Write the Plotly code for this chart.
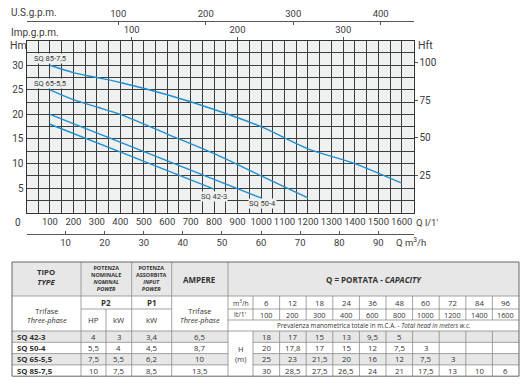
import plotly.graph_objects as go

W, H = 532, 390


def px(x):
    return x / W


def py(y):
    return 1 - y / H


# ---------------- data ----------------
# table values
q_lmin = [100, 200, 300, 400, 600, 800, 1000, 1200, 1400, 1600]
q_m3h = [6, 12, 18, 24, 36, 48, 60, 72, 84, 96]
h_sq42_3 = [18, 17, 15, 13, 9.5, 5]
h_sq50_4 = [20, 17.8, 17, 15, 12, 7.5, 3]
h_sq65_55 = [25, 23, 21.5, 20, 16, 12, 7.5, 3]
h_sq85_75 = [30, 28.5, 27.5, 26.5, 24, 21, 17.5, 13, 10, 6]
pump_types = ["SQ 42-3", "SQ 50-4", "SQ 65-5,5", "SQ 85-7,5"]
p2_hp = [4, 5.5, 7.5, 10]
p2_kw = [3, 4, 5.5, 7.5]
p1_kw = [3.4, 4.5, 6.2, 8.5]
ampere = [6.5, 8.7, 10, 13.5]

# curves as drawn on the chart
curve_q_sq42_3 = [100, 450, 800]
curve_h_sq42_3 = [18, 11.4, 4.8]
curve_q_sq50_4 = [100, 450, 1000]
curve_h_sq50_4 = [20, 13.4, 3]
curve_q_sq65_55 = q_lmin[:len(h_sq65_55)]
curve_h_sq65_55 = h_sq65_55
curve_q_sq85_75 = q_lmin
curve_h_sq85_75 = h_sq85_75
curve_names = ["SQ 42-3", "SQ 50-4", "SQ 65-5,5", "SQ 85-7,5"]

x_ticks_lmin = [100, 200, 300, 400, 500, 600, 700, 800, 900, 1000,
                1100, 1200, 1300, 1400, 1500, 1600]
y_ticks_m = [5, 10, 15, 20, 25, 30]
y_ticks_ft = [25, 50, 75, 100]
us_gpm_ticks = [100, 200, 300, 400]
imp_gpm_ticks = [100, 200, 300]
m3h_ticks = [10, 20, 30, 40, 50, 60, 70, 80, 90]


def fmt(v):
    if float(v).is_integer():
        return str(int(v))
    return str(v).replace(".", ",")


FONT = "Roboto"
TXT = "#3a3a3a"
BLUE = "#1f8fd2"
GRID = "#3c3c3c"
PLOTBG = "#eff1f0"

# plot area in pixels
PL, PR, PT, PB = 26.5, 413.5, 40.7, 212.7
XMAX = 1650.0
YMAX = 35.0

fig = go.Figure()

curves = [(curve_q_sq42_3, curve_h_sq42_3), (curve_q_sq50_4, curve_h_sq50_4),
          (curve_q_sq65_55, curve_h_sq65_55), (curve_q_sq85_75, curve_h_sq85_75)]
for name, (cq, ch) in zip(curve_names, curves):
    fig.add_trace(go.Scatter(
        x=cq, y=ch, mode="lines", name=name,
        line=dict(color=BLUE, width=1.4, shape="spline", smoothing=0.8),
        hoverinfo="x+y+name", showlegend=False))

# dummy traces so secondary axes are drawn
for xa, ya in (("x2", "y"), ("x3", "y"), ("x4", "y"), ("x", "y2")):
    fig.add_trace(go.Scatter(x=[None], y=[None], xaxis=xa, yaxis=ya,
                             showlegend=False, hoverinfo="skip"))

xdom = [px(PL), px(PR)]
tickfont = dict(family=FONT, size=9.5, color=TXT)

# US gpm: observed 100 at 118.3px, 400 at 380.7px
us_scale = (380.7 - 118.3) / 300.0
us_range = [100 - (118.3 - PL) / us_scale, 100 + (PR - 118.3) / us_scale]
# Imp gpm: 100 at 131.7px, 300 at 343.3px
imp_scale = (343.3 - 131.7) / 200.0
imp_range = [100 - (131.7 - PL) / imp_scale, 100 + (PR - 131.7) / imp_scale]

fig.update_layout(
    width=W, height=H,
    margin=dict(l=0, r=0, t=0, b=0, autoexpand=False),
    paper_bgcolor="white",
    plot_bgcolor=PLOTBG,
    showlegend=False,
    xaxis=dict(domain=xdom, range=[0, XMAX], anchor="y",
               tickvals=x_ticks_lmin, ticks="", tickfont=tickfont,
               showgrid=True, gridcolor=GRID, gridwidth=0.8,
               minor=dict(dtick=50, tick0=0, showgrid=True,
                          gridcolor=GRID, gridwidth=0.8, ticks=""),
               showline=True, linecolor="#333", linewidth=1, mirror=True,
               zeroline=False, fixedrange=True),
    yaxis=dict(domain=[py(PB), py(PT)], range=[0, YMAX], anchor="x",
               tickvals=y_ticks_m, ticks="", tickfont=dict(family=FONT, size=10, color=TXT),
               showgrid=True, gridcolor=GRID, gridwidth=0.8,
               minor=dict(dtick=2.5, tick0=0, showgrid=True,
                          gridcolor=GRID, gridwidth=0.8, ticks=""),
               showline=True, linecolor="#333", linewidth=1, mirror=True,
               zeroline=False, fixedrange=True),
    yaxis2=dict(overlaying="y", side="right", anchor="x",
                range=[0, YMAX * 3.28084], tickvals=y_ticks_ft,
                ticks="outside", ticklen=3, tickcolor="#555",
                tickfont=dict(family=FONT, size=10, color=TXT),
                showgrid=False, zeroline=False, showline=False, fixedrange=True),
    xaxis2=dict(overlaying="x", side="top", anchor="y",
                range=imp_range, tickvals=imp_gpm_ticks,
                ticks="outside", ticklen=3, tickcolor="#555",
                tickfont=tickfont, showgrid=False, zeroline=False,
                showline=False, fixedrange=True),
    xaxis3=dict(overlaying="x", side="top", anchor="free", position=py(21),
                range=us_range, tickvals=us_gpm_ticks,
                ticks="inside", ticklen=3, tickcolor="#555",
                tickfont=tickfont, showgrid=False, zeroline=False,
                showline=True, linecolor="#555", linewidth=1, fixedrange=True),
    xaxis4=dict(overlaying="x", side="bottom", anchor="free", position=py(234),
                range=[0, XMAX * 0.06], tickvals=m3h_ticks,
                ticks="inside", ticklen=3, tickcolor="#555",
                tickfont=tickfont, showgrid=False, zeroline=False,
                showline=True, linecolor="#555", linewidth=1, fixedrange=True),
)

ann = []


def text(x, y, s, size=9.5, anchor="center", color=TXT, family=FONT, bg=None):
    d = dict(x=px(x), y=py(y), xref="paper", yref="paper", text=s,
             showarrow=False, xanchor=anchor, yanchor="middle",
             borderpad=0,
             font=dict(family=family, size=size, color=color))
    if bg:
        d["bgcolor"] = bg
    ann.append(d)


# axis titles
text(10, 12, "U.S.g.p.m.", 10, "left")
text(10, 32, "Imp.g.p.m.", 10, "left")
text(9, 45, "Hm", 10.5, "left")
text(417, 45, "Hft", 10.5, "left")
text(18, 222, "0", 10)
text(415, 222, "Q l/1'", 9.5, "left")
text(395, 242, "Q m<sup>3</sup>/h", 9.5, "left")

# curve labels
text(50, 58.5, "SQ 85-7,5", 7.5, bg=PLOTBG)
text(50, 83.5, "SQ 65-5,5", 7.5, bg=PLOTBG)
text(214, 196, "SQ 42-3", 7.5, bg=PLOTBG)
text(262, 203.5, "SQ 50-4", 7.5, bg=PLOTBG)

# ---------------- table ----------------
shapes = []
LINE = "#8c8c8c"
X0, C1, C1A, C2, C3, C4, C5, XR = 12, 81, 106, 131.7, 171.7, 228, 253, 519
ncol = len(q_m3h)
cw = (XR - C5) / ncol
qcols = [C5 + i * cw for i in range(ncol + 1)]
R0, R1, R1A, R1B, R2 = 262, 296, 309, 320, 331
rh = 11.3
drows = [R2 + i * rh for i in range(len(pump_types) + 1)]
RB = drows[-1]


def rect(x0, y0, x1, y1, fill):
    shapes.append(dict(type="rect", xref="paper", yref="paper",
                       x0=px(x0), x1=px(x1), y0=py(y1), y1=py(y0),
                       fillcolor=fill, line=dict(width=0), layer="below"))


def hline(y, x0, x1, color=LINE, w=0.8):
    shapes.append(dict(type="line", xref="paper", yref="paper",
                       x0=px(x0), x1=px(x1), y0=py(y), y1=py(y),
                       line=dict(color=color, width=w)))


def vline(x, y0, y1, color=LINE, w=0.8):
    shapes.append(dict(type="line", xref="paper", yref="paper",
                       x0=px(x), x1=px(x), y0=py(y0), y1=py(y1),
                       line=dict(color=color, width=w)))


GRAYF = "#e7e7e7"
rect(X0, R0, XR, R1, GRAYF)
for i in range(len(pump_types)):
    if i % 2 == 0:
        rect(X0, drows[i], C4, drows[i + 1], GRAYF)
        rect(C5, drows[i], XR, drows[i + 1], GRAYF)

hline(R1, X0, XR)
hline(R1A, C1, C3)
hline(R1A, C4, XR)
hline(R1B, C4, XR)
hline(R2, X0, XR)
for y in drows[1:-1]:
    hline(y, X0, C4)
    hline(y, C5, XR)
for x in (C1, C2, C3, C4):
    vline(x, R0, RB)
vline(C1A, R1A, RB)
for x in qcols[:-1]:
    vline(x, R1, R1B)
    vline(x, R2, RB)
shapes.append(dict(type="rect", xref="paper", yref="paper",
                   x0=px(X0), x1=px(XR), y0=py(RB), y1=py(R0),
                   line=dict(color="#666", width=1)))

TF = "Open Sans"
TC = "#333"
DS = 7.8
# header row 1
text((X0 + C1) / 2, 276.5, "<b>TIPO<br><i>TYPE</i></b>", 7.8, family=TF, color=TC)
text((C1 + C2) / 2, 278,
     "<b>POTENZA<br>NOMINALE<br><i>NOMINAL<br>POWER</i></b>", 5.5, family=TF, color=TC)
text((C2 + C3) / 2, 278,
     "<b>POTENZA<br>ASSORBITA<br><i>INPUT<br>POWER</i></b>", 5.5, family=TF, color=TC)
text((C3 + C4) / 2, 279, "<b>AMPERE</b>", 8, family=TF, color=TC)
text((C4 + XR) / 2, 279, "<b>Q = PORTATA - <i>CAPACITY</i></b>", 8, family=TF, color=TC)

# header row 2
text((X0 + C1) / 2, 315.5, "Trifase<br><i>Three-phase</i>", 7.3, family=TF, color=TC)
text((C1 + C2) / 2, (R1 + R1A) / 2, "<b>P2</b>", 8, family=TF, color=TC)
text((C1 + C1A) / 2, (R1A + R2) / 2, "HP", 7.8, family=TF, color=TC)
text((C1A + C2) / 2, (R1A + R2) / 2, "kW", 7.8, family=TF, color=TC)
text((C2 + C3) / 2, (R1 + R1A) / 2, "<b>P1</b>", 8, family=TF, color=TC)
text((C2 + C3) / 2, (R1A + R2) / 2, "kW", 7.8, family=TF, color=TC)
text((C3 + C4) / 2, 315.5, "Trifase<br><i>Three-phase</i>", 7.3, family=TF, color=TC)
text((C4 + C5) / 2, (R1 + R1A) / 2, "m<sup>3</sup>/h", 6.8, family=TF, color=TC)
text((C4 + C5) / 2, (R1A + R1B) / 2, "lt/1'", 6.8, family=TF, color=TC)
for i in range(ncol):
    cx = (qcols[i] + qcols[i + 1]) / 2
    text(cx, (R1 + R1A) / 2, fmt(q_m3h[i]), DS, family=TF, color=TC)
    text(cx, (R1A + R1B) / 2, fmt(q_lmin[i]), 7.3, family=TF, color=TC)
text((C4 + XR) / 2, (R1B + R2) / 2,
     "Prevalenza manometrica totale in m.C.A. - <i>Total head in meters w.c.</i>",
     6.3, family=TF, color=TC)

# data rows
heads = [h_sq42_3, h_sq50_4, h_sq65_55, h_sq85_75]
for i in range(len(pump_types)):
    cy = (drows[i] + drows[i + 1]) / 2
    text(X0 + 4, cy, "<b>" + pump_types[i] + "</b>", DS, "left", family=TF, color=TC)
    text((C1 + C1A) / 2, cy, fmt(p2_hp[i]), DS, family=TF, color=TC)
    text((C1A + C2) / 2, cy, fmt(p2_kw[i]), DS, family=TF, color=TC)
    text((C2 + C3) / 2, cy, fmt(p1_kw[i]), DS, family=TF, color=TC)
    text((C3 + C4) / 2, cy, fmt(ampere[i]), DS, family=TF, color=TC)
    for k, v in enumerate(heads[i]):
        cx = (qcols[k] + qcols[k + 1]) / 2
        text(cx, cy, fmt(v), DS, family=TF, color=TC)
text((C4 + C5) / 2, (R2 + RB) / 2, "H<br>(m)", 7.5, family=TF, color=TC)

fig.update_layout(annotations=ann, shapes=shapes)

fig.write_html("out.html", config={"displayModeBar": False},
               post_script="document.body.style.margin='0';document.body.style.padding='0';")
